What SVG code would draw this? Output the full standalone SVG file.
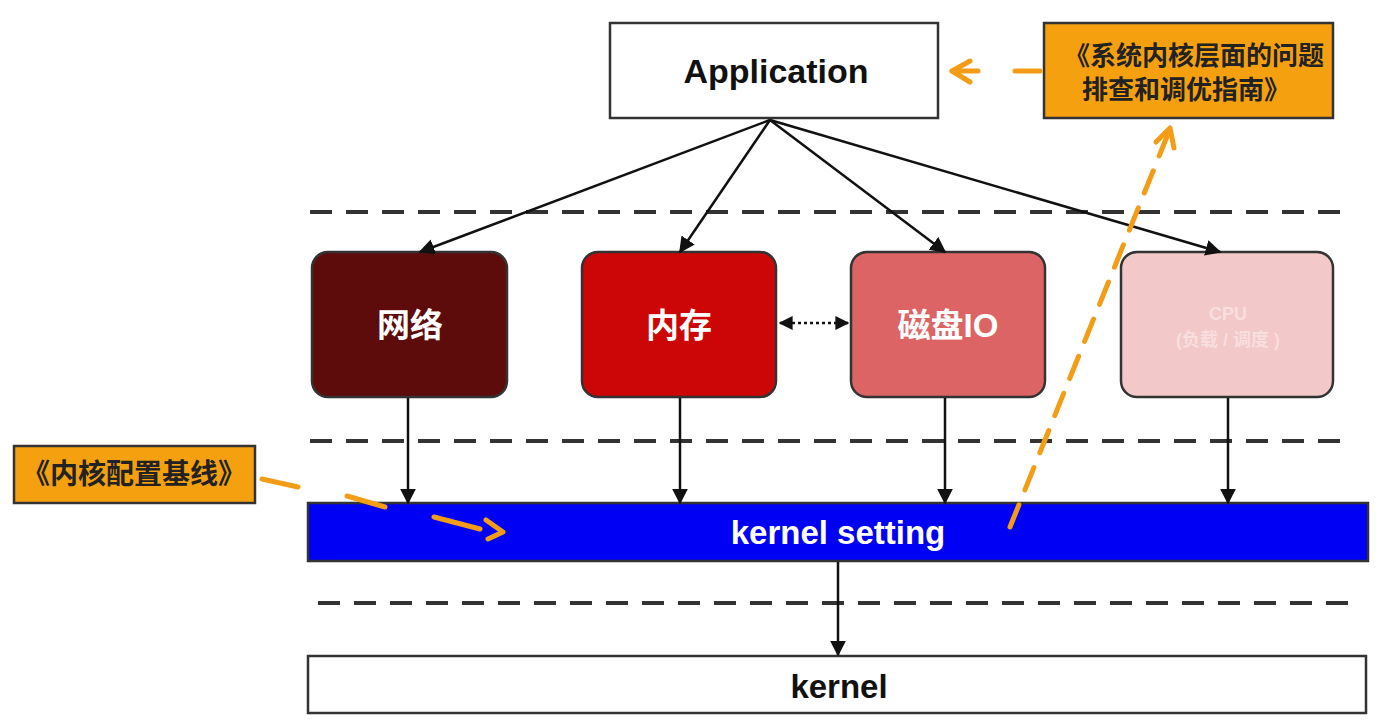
<svg xmlns="http://www.w3.org/2000/svg" width="1383" height="721" viewBox="0 0 1383 721">
<style>
.box{stroke:#333;stroke-width:2.5}
.lbl{font-family:"Liberation Sans","Noto Sans CJK SC",sans-serif;font-weight:bold;text-anchor:middle;dominant-baseline:central}
.cn{font-family:"Noto Sans CJK SC","Liberation Sans",sans-serif;font-weight:bold}
.dash{stroke:#333;stroke-width:4;stroke-dasharray:22,14;fill:none}
.ln{stroke:#111;stroke-width:2.5;fill:none;marker-end:url(#ah)}
.or{stroke:#f39c16;stroke-width:5;fill:none;stroke-dasharray:24,16;stroke-linecap:round}
.orh{stroke:#f39c16;stroke-width:5;fill:none;stroke-linecap:round;stroke-linejoin:round}
</style>
<defs>
<marker id="ah" viewBox="0 0 10 10" refX="9" refY="5" markerWidth="16" markerHeight="16" orient="auto" markerUnits="userSpaceOnUse">
<path d="M0,0 L10,5 L0,10 z" fill="#111"/>
</marker>
<marker id="ah2" viewBox="0 0 10 10" refX="9" refY="5" markerWidth="14" markerHeight="14" orient="auto-start-reverse" markerUnits="userSpaceOnUse">
<path d="M0,0 L10,5 L0,10 z" fill="#111"/>
</marker>
</defs>
<rect width="1383" height="721" fill="#ffffff"/>

<g id="separators">
<line class="dash" x1="310" y1="212" x2="1345" y2="212"/>
<line class="dash" x1="310" y1="441" x2="1345" y2="441"/>
<line class="dash" x1="318" y1="603" x2="1352" y2="603"/>
</g>

<g id="application">
<rect class="box" x="610" y="23" width="328" height="95" fill="#fff"/>
<text class="lbl" x="776" y="71" font-size="34" fill="#111">Application</text>
</g>

<g id="guide-note">
<rect class="box" x="1044" y="23" width="289" height="95" fill="#f5a00f"/>
<text class="cn" x="1064" y="65" font-size="26" fill="#222">《系统内核层面的问题</text>
<text class="cn" x="1082" y="99" font-size="26" fill="#222">排查和调优指南》</text>
</g>

<g id="network">
<rect class="box" x="312" y="252" width="195" height="145" rx="16" fill="#5e0b0b"/>
<text class="lbl" x="410" y="325" font-size="33" fill="#fff">网络</text>
</g>
<g id="memory">
<rect class="box" x="582" y="252" width="194" height="145" rx="16" fill="#cc0606"/>
<text class="lbl" x="679" y="325" font-size="33" fill="#fff">内存</text>
</g>
<g id="disk">
<rect class="box" x="851" y="252" width="194" height="145" rx="16" fill="#dd6464"/>
<text class="lbl" x="948" y="325" font-size="33" fill="#fff">磁盘IO</text>
</g>
<g id="cpu">
<rect class="box" x="1121" y="252" width="212" height="145" rx="16" fill="#f3c8c8"/>
<text class="lbl" x="1228" y="314" font-size="18" fill="#f8dede">CPU</text>
<text class="lbl" x="1228" y="340" font-size="18" fill="#f8dede">(负载 / 调度      )</text>
</g>

<g id="kernel-setting">
<rect class="box" x="308" y="503" width="1060" height="58" fill="#0000f5"/>
<text class="lbl" x="838" y="532" font-size="33" fill="#fff">kernel setting</text>
</g>

<g id="kernel">
<rect class="box" x="308" y="656" width="1058" height="57" fill="#fff"/>
<text class="lbl" x="839" y="686" font-size="33" fill="#111">kernel</text>
</g>

<g id="baseline-note">
<rect class="box" x="14" y="446" width="241" height="57" fill="#f5a00f"/>
<text class="cn" x="134" y="484" font-size="28" fill="#222" text-anchor="middle">《内核配置基线》</text>
</g>

<g id="connectors">
<line class="ln" x1="770" y1="120" x2="420" y2="252"/>
<line class="ln" x1="770" y1="120" x2="680" y2="252"/>
<line class="ln" x1="770" y1="120" x2="945" y2="252"/>
<line class="ln" x1="770" y1="120" x2="1220" y2="252"/>
<line class="ln" x1="408" y1="398" x2="408" y2="503"/>
<line class="ln" x1="680" y1="398" x2="680" y2="503"/>
<line class="ln" x1="945" y1="398" x2="945" y2="503"/>
<line class="ln" x1="1228" y1="398" x2="1228" y2="503"/>
<line class="ln" x1="838" y1="562" x2="838" y2="655"/>
<line x1="780" y1="323" x2="848" y2="323" stroke="#111" stroke-width="2.5" stroke-dasharray="3,3" marker-start="url(#ah2)" marker-end="url(#ah2)"/>
<path class="orh" d="M262,479 L298,487"/>
<path class="orh" d="M347,496 L385,507"/>
<path class="orh" d="M434,517 L480,529"/>
<path class="orh" d="M486,520 L503,532 L488,539"/>
<path class="or" d="M1010,527 L1168,134"/>
<path class="orh" d="M1156,142 L1170,128 L1174,148"/>
<path class="orh" d="M1040,71 L1015,71"/>
<path class="orh" d="M970,61 L952,71 L970,82"/>
<path class="orh" d="M952,71 L978,71"/>
</g>
</svg>
